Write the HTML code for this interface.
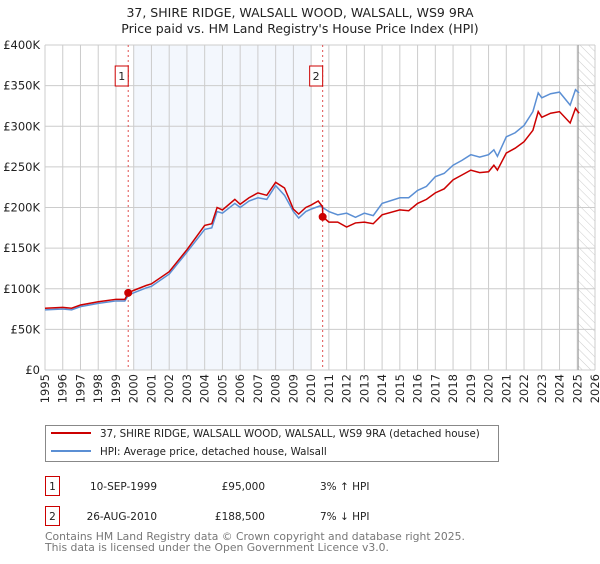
<!DOCTYPE html>
<html><head><meta charset="utf-8"><style>
body{margin:0;background:#fff;font-family:"DejaVu Sans","Liberation Sans",sans-serif;}
svg text{font-family:"DejaVu Sans","Liberation Sans",sans-serif;}
</style></head><body>
<svg id="c" width="600" height="560" xmlns="http://www.w3.org/2000/svg">
<defs><pattern id="hatch" width="6" height="6" patternUnits="userSpaceOnUse" patternTransform="rotate(-45)"><line x1="0" y1="0" x2="0" y2="6" stroke="#ccc" stroke-width="1"/></pattern></defs>
<text x="300" y="17" text-anchor="middle" font-size="12.5" fill="#222">37, SHIRE RIDGE, WALSALL WOOD, WALSALL, WS9 9RA</text>
<text x="300" y="33" text-anchor="middle" font-size="12.5" fill="#222">Price paid vs. HM Land Registry's House Price Index (HPI)</text>
<g id="plot"></g>
<rect x="45.5" y="425.5" width="453" height="36" fill="#fff" stroke="#888"/>
<line x1="51" y1="433" x2="91" y2="433" stroke="#cc0000" stroke-width="2"/>
<text x="100" y="437" font-size="10.3" fill="#222">37, SHIRE RIDGE, WALSALL WOOD, WALSALL, WS9 9RA (detached house)</text>
<line x1="51" y1="451" x2="91" y2="451" stroke="#5b8fd4" stroke-width="2"/>
<text x="100" y="455" font-size="10.3" fill="#222">HPI: Average price, detached house, Walsall</text>
<g font-size="10.5" fill="#222">
<rect x="45.5" y="476.5" width="14" height="19" fill="#fff" stroke="#cc0000"/><text x="52.5" y="490" text-anchor="middle">1</text>
<text x="157" y="490" text-anchor="end">10-SEP-1999</text><text x="265" y="490" text-anchor="end">£95,000</text><text x="320" y="490">3% ↑ HPI</text></g>
<g font-size="10.5" fill="#222">
<rect x="45.5" y="506.5" width="14" height="19" fill="#fff" stroke="#cc0000"/><text x="52.5" y="520" text-anchor="middle">2</text>
<text x="157" y="520" text-anchor="end">26-AUG-2010</text><text x="265" y="520" text-anchor="end">£188,500</text><text x="320" y="520">7% ↓ HPI</text></g>
<text x="45" y="540" font-size="10.8" fill="#777">Contains HM Land Registry data © Crown copyright and database right 2025.</text>
<text x="45" y="551" font-size="10.8" fill="#777">This data is licensed under the Open Government Licence v3.0.</text>
</svg>
<script>
const yTicks=[0,50,100,150,200,250,300,350,400];
const yTickLabels=["£0","£50K","£100K","£150K","£200K","£250K","£300K","£350K","£400K"];
const years=[1995,1996,1997,1998,1999,2000,2001,2002,2003,2004,2005,2006,2007,2008,2009,2010,2011,2012,2013,2014,2015,2016,2017,2018,2019,2020,2021,2022,2023,2024,2025,2026];
const hpiT=[1995,1996,1996.5,1997,1998,1999,1999.5,1999.7,2000,2000.7,2001,2002,2003,2004,2004.4,2004.7,2005,2005.7,2006,2006.5,2007,2007.5,2008,2008.5,2009,2009.3,2009.7,2010,2010.5,2011,2011.5,2012,2012.5,2013,2013.5,2014,2015,2015.5,2016,2016.5,2017,2017.5,2018,2018.5,2019,2019.5,2020,2020.3,2020.5,2021,2021.5,2022,2022.5,2022.8,2023,2023.5,2024,2024.6,2024.9,2025.1];
const hpiV=[74,75,74,78,82,85,85,92,95,101,103,118,145,173,175,195,193,205,200,208,212,210,227,215,195,187,195,198,202,195,191,193,188,193,190,205,212,212,221,226,238,242,252,258,265,262,265,271,263,287,292,301,318,341,335,340,342,326,345,341];
const redT=[1995,1996,1996.5,1997,1998,1999,1999.5,1999.7,2000,2000.7,2001,2002,2003,2004,2004.4,2004.7,2005,2005.7,2006,2006.5,2007,2007.5,2008,2008.5,2009,2009.3,2009.7,2010,2010.4,2010.64,2010.66,2011,2011.5,2012,2012.5,2013,2013.5,2014,2015,2015.5,2016,2016.5,2017,2017.5,2018,2018.5,2019,2019.5,2020,2020.3,2020.5,2021,2021.5,2022,2022.5,2022.8,2023,2023.5,2024,2024.6,2024.9,2025.1];
const redV=[76,77,76,80,84,87,87,95,98,104,106,121,148,178,180,200,197,210,204,212,218,215,231,224,198,192,200,203,208,201,188.5,182,182,176,181,182,180,191,197,196,205,210,218,223,234,240,246,243,244,252,246,267,273,281,295,318,311,316,318,304,322,316];
const sales=[{t:1999.69,v:95,n:"1"},{t:2010.65,v:188.5,n:"2"}];
const L=45,R=595,T=45,B=370,X0=1995,X1=2026;
const x=t=>L+(t-X0)*(R-L)/(X1-X0), y=v=>B-v*(B-T)/400;
const NS="http://www.w3.org/2000/svg", g=document.getElementById('plot');
function mk(tag,a,parent){const e=document.createElementNS(NS,tag);for(const k in a)e.setAttribute(k,a[k]);(parent||g).appendChild(e);return e;}
let e=mk('rect',{x:x(2000),y:T,width:x(2010)-x(2000),height:B-T,fill:'#eef3fc',opacity:0.7});


e=mk('rect',{x:x(2025.05),y:T,width:R-x(2025.05),height:B-T,fill:'url(#hatch)'});


years.forEach(yr=>{
 e=mk('line',{x1:x(yr),x2:x(yr),y1:T,y2:B,stroke:'#ccc','stroke-width':1});
 
 
 e=mk('text',{x:0,y:0,transform:`translate(${x(yr)+4},${B+4}) rotate(-90)`,'text-anchor':'end','font-size':11.5,fill:'#222'});
 e.textContent=yr;
 
 
});
yTicks.forEach((v,i)=>{
 e=mk('line',{x1:L,x2:R,y1:y(v),y2:y(v),stroke:'#ccc','stroke-width':1});
 
 
 e=mk('text',{x:40,y:y(v)+4,'text-anchor':'end','font-size':11.5,fill:'#222'});
 e.textContent=yTickLabels[i];
 
 
});
e=mk('line',{x1:x(2025.05),x2:x(2025.05),y1:T,y2:B,stroke:'#999','stroke-width':1});


sales.forEach(s=>{
 e=mk('line',{x1:x(s.t),x2:x(s.t),y1:T,y2:B,stroke:'#e05050','stroke-width':1,'stroke-dasharray':'2,3'});
 
 
 e=mk('rect',{x:x(s.t)-13,y:66,width:13,height:20,fill:'#fff',stroke:'#cc0000'});
 
 
 e=mk('text',{x:x(s.t)-6.5,y:80,'text-anchor':'middle','font-size':11,fill:'#222'});
 e.textContent=s.n;
 
 
});
e=mk('polyline',{points:hpiT.map((t,i)=>x(t)+','+y(hpiV[i])).join(' '),fill:'none',stroke:'#5b8fd4','stroke-width':1.5});


e=mk('polyline',{points:redT.map((t,i)=>x(t)+','+y(redV[i])).join(' '),fill:'none',stroke:'#cc0000','stroke-width':1.5});


sales.forEach(s=>{
 e=mk('circle',{cx:x(s.t),cy:y(s.v),r:4,fill:'#cc0000'});
 
 
});
</script>
</body></html>
